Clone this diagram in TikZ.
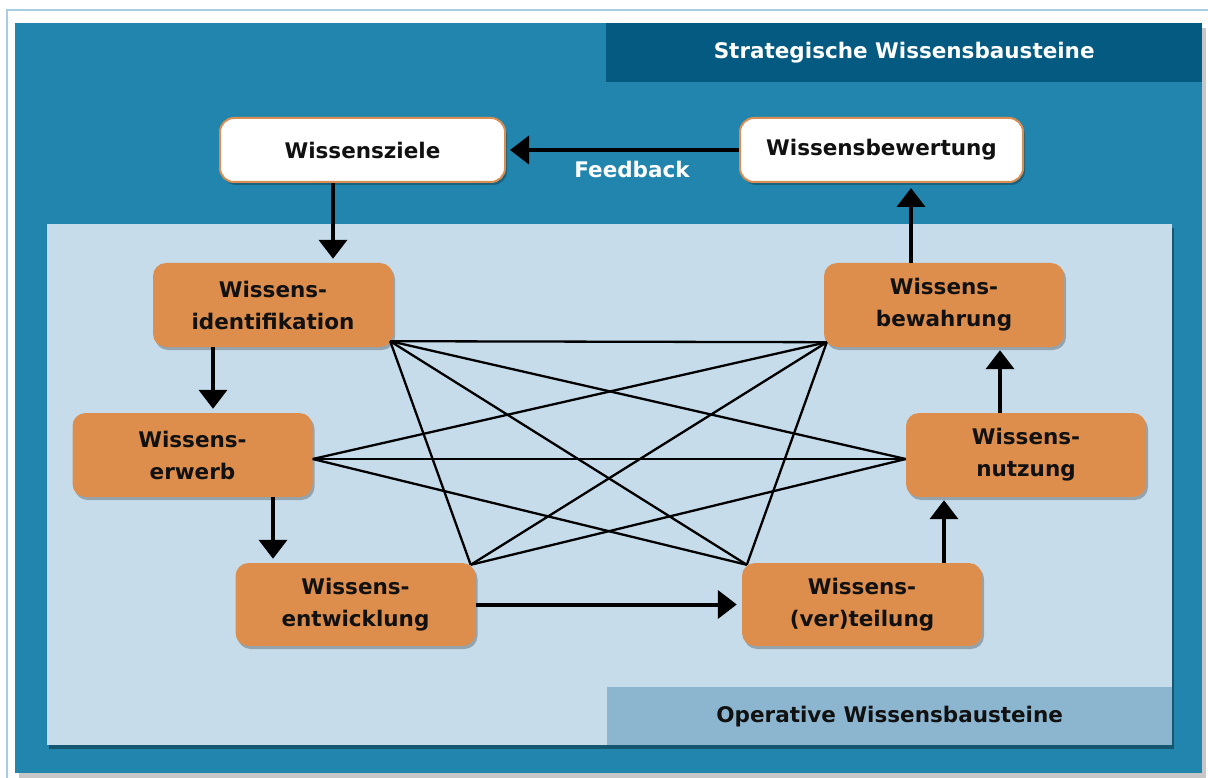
\documentclass[tikz,border=0pt]{standalone}
\usepackage{fontspec}
\setmainfont{DejaVu Sans}
\usetikzlibrary{arrows.meta,shadows,calc}
\definecolor{bgblue}{HTML}{2185AE}
\definecolor{hdrblue}{HTML}{045A80}
\definecolor{panelblue}{HTML}{C6DCEA}
\definecolor{labelblue}{HTML}{8CB6D0}
\definecolor{boxorange}{HTML}{DD8D4C}
\definecolor{borderorange}{HTML}{D98F52}
\definecolor{framecol}{HTML}{A8CDE0}
\definecolor{txtdark}{HTML}{111111}
\tikzset{
  softshadow/.style={drop shadow={shadow xshift=2pt,shadow yshift=-3pt,opacity=0.25,fill=black}},
  whitebox/.style={draw=borderorange,line width=2pt,fill=white,rounded corners=14pt,
     font=\bfseries\fontsize{21.5}{32}\selectfont,text=txtdark,align=center,softshadow},
  orangebox/.style={fill=boxorange,rounded corners=13pt,minimum width=240pt,minimum height=84pt,
     font=\bfseries\fontsize{21.5}{32}\selectfont,text=txtdark,align=center,softshadow},
  arr/.style={line width=4pt,-{Triangle[width=28pt,length=19pt]}},
  link/.style={line width=2.3pt,black},
  headtext/.style={font=\bfseries\fontsize{21.5}{26}\selectfont,align=center}
}
\begin{document}
\begin{tikzpicture}[x=1pt,y=-1pt]
\useasboundingbox (0,0) rectangle (1208,778);
\fill[white] (0,0) rectangle (1208,778);
\draw[framecol,line width=2pt] (7,780) -- (7,10) -- (1210,10);
% main blue background with shadow
\fill[black,opacity=0.22] (19,28) rectangle (1206,778);
\fill[bgblue] (15,23) rectangle (1202,773);
% header
\node[fill=hdrblue,minimum width=596pt,minimum height=59pt,inner sep=0pt,anchor=north west,
      headtext,text=white] (hdr) at (606,23) {Strategische Wissensbausteine};
% operative panel
\fill[panelblue,drop shadow={shadow xshift=2pt,shadow yshift=-4pt,opacity=0.35,fill=black}] (47,224) rectangle (1172,745);
\node[fill=labelblue,minimum width=565pt,minimum height=58pt,inner sep=0pt,anchor=north west,
      headtext,text=txtdark] (opl) at (607,687) {Operative Wissensbausteine};
% strategic nodes
\node[whitebox,minimum width=285pt,minimum height=64pt] (ziele) at (362.5,150) {Wissensziele};
\node[whitebox,minimum width=283pt,minimum height=64pt] (bewert) at (881.5,150) {Wissensbewertung};
% operative nodes
\node[orangebox] (ident) at (273,305) {Wissens-\\identifikation};
\node[orangebox] (bewahr) at (944,305) {Wissens-\\bewahrung};
\node[orangebox] (erwerb) at (192.5,455) {Wissens-\\erwerb};
\node[orangebox] (nutz) at (1026,455) {Wissens-\\nutzung};
\node[orangebox,minimum height=83pt] (entw) at (355.5,604.5) {Wissens-\\entwicklung};
\node[orangebox,minimum height=83pt] (verteil) at (862,604.5) {Wissens-\\(ver)teilung};
% attachment points of the cross links
\coordinate (pI) at ($(ident.south east)+(-3,-6)$);
\coordinate (pB) at ($(bewahr.south west)+(3,-5)$);
\coordinate (pE) at ($(erwerb.east)+(0,4)$);
\coordinate (pN) at ($(nutz.west)+(0,4)$);
\coordinate (pD) at ($(entw.north east)+(-5,2)$);
\coordinate (pV) at ($(verteil.north west)+(5,2)$);
% cross links
\draw[link] (pI) -- (pB);
\draw[link] (pI) -- (pN);
\draw[link] (pI) -- (pV);
\draw[link] (pI) -- (pD);
\draw[link] (pE) -- (pB);
\draw[link] (pE) -- (pN);
\draw[link] (pE) -- (pV);
\draw[link] (pD) -- (pB);
\draw[link] (pD) -- (pN);
\draw[link] (pV) -- (pB);
% arrows
\draw[arr,shorten >=4pt] (bewert.west) -- (ziele.east);
\node[font=\bfseries\fontsize{21.5}{26}\selectfont,text=white] (fb) at (632,169) {Feedback};
\draw[arr,shorten >=4pt] (ziele.south -| 333,0) -- (ident.north -| 333,0);
\draw[arr,shorten >=4pt] (ident.south -| 213,0) -- (erwerb.north -| 213,0);
\draw[arr,shorten >=4pt] (erwerb.south -| 273,0) -- (entw.north -| 273,0);
\draw[arr,shorten >=5pt] (entw.east) -- (verteil.west);
\draw[arr,shorten >=3pt] (verteil.north -| 944,0) -- (nutz.south -| 944,0);
\draw[arr,shorten >=3pt] (nutz.north -| 1000,0) -- (bewahr.south -| 1000,0);
\draw[arr,shorten >=5pt] (bewahr.north -| 911,0) -- (bewert.south -| 911,0);
\end{tikzpicture}
\end{document}
